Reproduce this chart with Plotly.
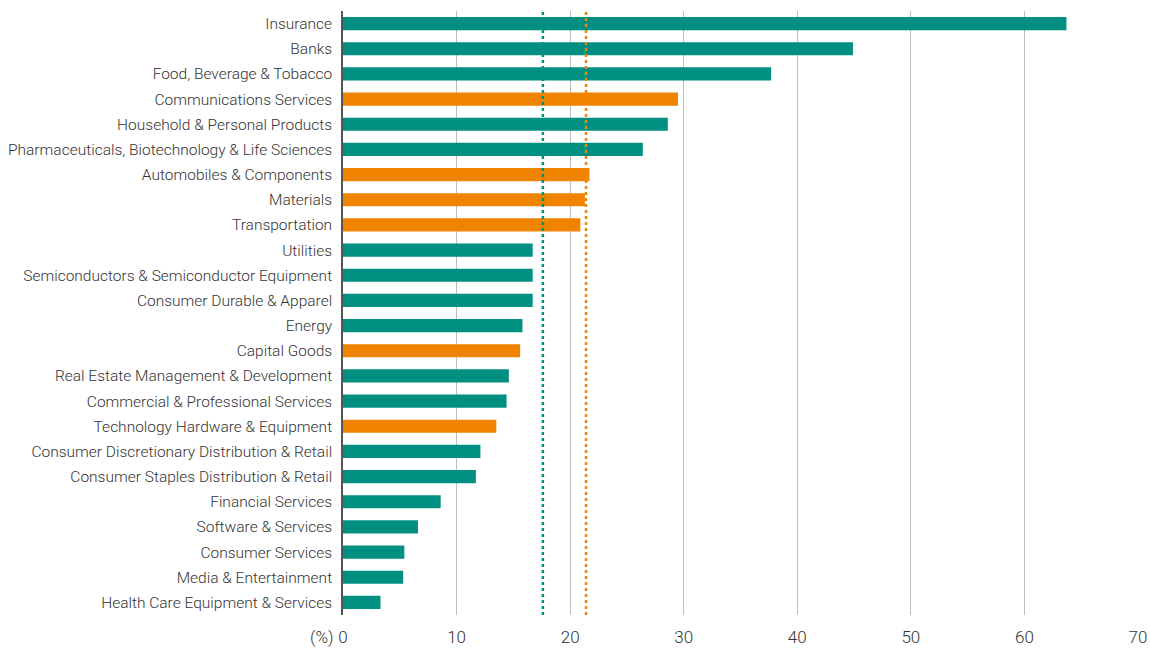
import plotly.graph_objects as go

categories = [
    "Insurance", "Banks", "Food, Beverage & Tobacco", "Communications Services",
    "Household & Personal Products", "Pharmaceuticals, Biotechnology & Life Sciences",
    "Automobiles & Components", "Materials", "Transportation", "Utilities",
    "Semiconductors & Semiconductor Equipment", "Consumer Durable & Apparel", "Energy",
    "Capital Goods", "Real Estate Management & Development", "Commercial & Professional Services",
    "Technology Hardware & Equipment", "Consumer Discretionary Distribution & Retail",
    "Consumer Staples Distribution & Retail", "Financial Services", "Software & Services",
    "Consumer Services", "Media & Entertainment", "Health Care Equipment & Services",
]
values = [63.7, 44.9, 37.7, 29.5, 28.6, 26.4, 21.7, 21.3, 20.9, 16.7, 16.7, 16.7, 15.8,
          15.6, 14.6, 14.4, 13.5, 12.1, 11.7, 8.6, 6.6, 5.4, 5.3, 3.3]
group = ["t", "t", "t", "o", "t", "t", "o", "o", "o", "t", "t", "t", "t",
         "o", "t", "t", "o", "t", "t", "t", "t", "t", "t", "t"]
avg_teal = 17.6
avg_orange = 21.4
x_ticks = [0, 10, 20, 30, 40, 50, 60, 70]

TEAL = "#008F80"
ORANGE = "#F08300"
colors = [TEAL if g == "t" else ORANGE for g in group]

fig = go.Figure(go.Bar(
    x=values, y=categories, orientation="h",
    marker=dict(color=colors, line=dict(width=0)),
    hoverinfo="x+y",
))

for v, c in [(avg_teal, TEAL), (avg_orange, ORANGE)]:
    fig.add_shape(type="line", xref="x", yref="paper", x0=v, x1=v, y0=0, y1=1,
                  line=dict(color=c, width=2.5, dash="dot"), layer="above")

fig.add_annotation(text="(%)", xref="paper", yref="paper", x=0, y=0, xshift=-7, yshift=-22,
                   xanchor="right", yanchor="middle", showarrow=False,
                   font=dict(size=17, color="#333333", weight=300))

fig.update_layout(
    width=1150, height=648,
    margin=dict(l=343, r=12, t=11, b=33),
    plot_bgcolor="white", paper_bgcolor="white",
    bargap=0.48,
    showlegend=False,
    font=dict(family="Roboto", size=15.5, color="#333333", weight=300),
    xaxis=dict(range=[0, 70], tickvals=x_ticks, showgrid=True, gridcolor="#BDBDBD",
               gridwidth=1, zeroline=False, showline=False, ticks="", ticklen=0,
               automargin=False, ticklabelstandoff=10,
               tickfont=dict(size=17, color="#333333", weight=300)),
    yaxis=dict(autorange="reversed", showline=True, linecolor="#555555", linewidth=1.5,
               ticks="", ticklabelstandoff=6, showgrid=False, automargin=False),
)

fig.write_html("out.html", config={"displayModeBar": False},
               post_script="document.body.style.margin='0';document.body.style.overflow='hidden';")
